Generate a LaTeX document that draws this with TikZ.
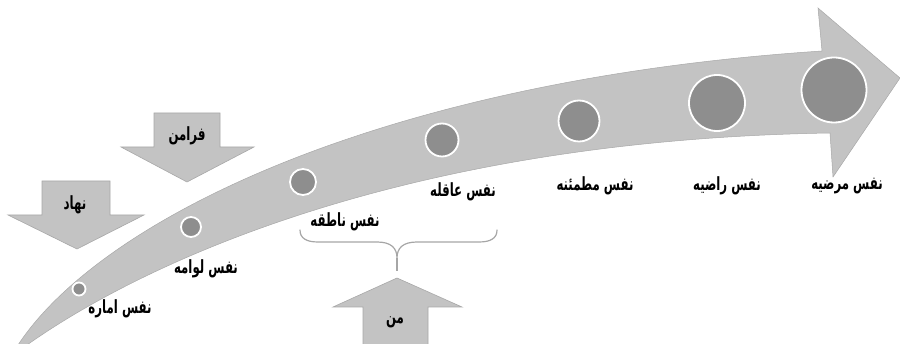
\documentclass[tikz,border=0pt]{standalone}
\usepackage{fontspec}
\usepackage{graphicx}
\newfontfamily\arabicfont[Script=Arabic, FakeStretch=0.84, BoldFont={DejaVu Sans Bold}]{DejaVu Sans}
\TeXXeTstate=1
\newcommand{\tallfa}[1]{\scalebox{1}[1.3]{\beginR #1\endR}}
\definecolor{band}{HTML}{C3C3C3}
\definecolor{bandedge}{HTML}{A8A8A8}
\definecolor{dot}{HTML}{8E8E8E}
\definecolor{braceg}{HTML}{A6A6A6}
\begin{document}
\begin{tikzpicture}[x=1pt,y=-1pt,
  lbl/.style={font=\arabicfont\bfseries\fontsize{14}{16}\selectfont, inner sep=0pt},
  blockarrow/.style={fill=band, draw=bandedge, line width=0.6pt},
  stage/.style={circle, fill=dot, draw=white, line width=1.8pt, inner sep=0pt}]
\useasboundingbox (0,0) rectangle (900,344);
% main curved arrow
\fill[band, draw=bandedge, line width=0.5pt]
  (18,345) .. controls (100,220) and (380,80) .. (822,51)
  -- (818,8) -- (900,78) -- (833,177) -- (830,133)
  .. controls (400,140) and (140,265) .. (27,345) -- cycle;
% stage circles
\node[stage, minimum size=13pt] (c1) at (79,289) {};
\node[stage, minimum size=20pt] (c2) at (191,227) {};
\node[stage, minimum size=26pt] (c3) at (303,182) {};
\node[stage, minimum size=33pt] (c4) at (442,140) {};
\node[stage, minimum size=41pt] (c5) at (579,121) {};
\node[stage, minimum size=56pt] (c6) at (717,103) {};
\node[stage, minimum size=65pt] (c7) at (834,90) {};
% stage labels
\node[lbl] (l1) at (120,309) {\tallfa{نفس اماره}};
\node[lbl] (l2) at (206,269) {\tallfa{نفس لوامه}};
\node[lbl] (l3) at (345,222) {\tallfa{نفس ناطقه}};
\node[lbl] (l4) at (463,192) {\tallfa{نفس عاقله}};
\node[lbl] (l5) at (595,186) {\tallfa{نفس مطمئنه}};
\node[lbl] (l6) at (727,186) {\tallfa{نفس راضیه}};
\node[lbl] (l7) at (847,186) {\tallfa{نفس مرضیه}};
% down arrow: nahad
\draw[blockarrow] (42,181) -- (110,181) -- (110,215) -- (144,215) -- (77,249) -- (8,215) -- (42,215) -- cycle;
\node[lbl] (nahad) at (75,205) {\tallfa{نهاد}};
% down arrow: faraman
\draw[blockarrow] (154,113) -- (220,113) -- (220,147) -- (254,147) -- (187,182) -- (121,147) -- (154,147) -- cycle;
\node[lbl] (faraman) at (187,136) {\tallfa{فرامن}};
% up arrow: man
\draw[blockarrow] (363,345) -- (363,307) -- (333,307) -- (397,278) -- (462,307) -- (428,307) -- (428,345);
\node[lbl] (man) at (395,322) {\tallfa{من}};
% brace
\coordinate (bl) at (300,230);
\coordinate (br) at (497,230);
\coordinate (bm) at (397,258);
\coordinate (bt) at (397,271);
\draw[braceg, line width=1.2pt, line cap=round]
  (bl) .. controls (300,238) and (306,242) .. (318,242) -- (377,242)
  .. controls (391,242) and (397,248) .. (bm)
  .. controls (397,248) and (403,242) .. (417,242) -- (479,242)
  .. controls (491,242) and (497,238) .. (br);
\draw[braceg, line width=1.2pt] (bm) -- (bt);
\end{tikzpicture}
\end{document}
